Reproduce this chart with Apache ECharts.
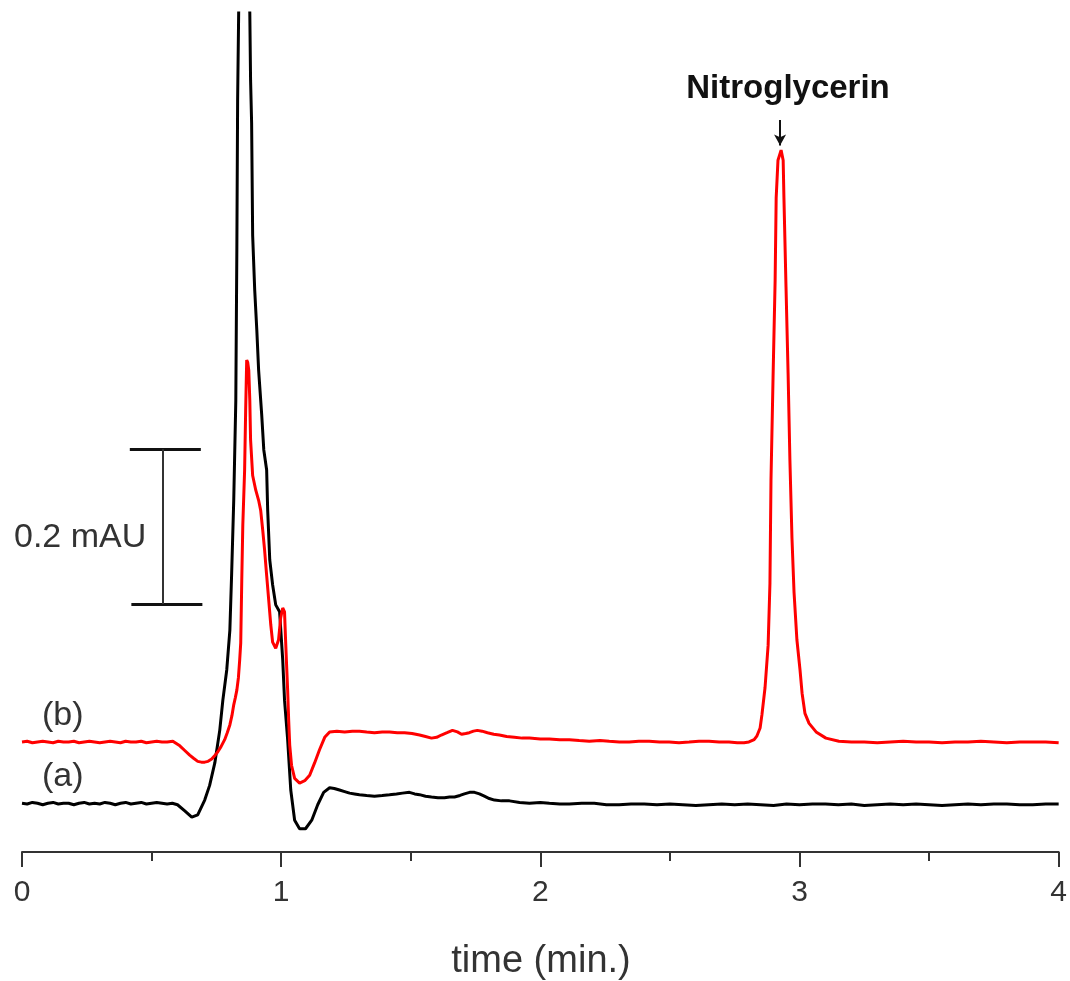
<!DOCTYPE html>
<html>
<head>
<meta charset="utf-8">
<script src="https://cdn.jsdelivr.net/npm/echarts@6/dist/echarts.min.js"></script>
<style>
html,body{margin:0;padding:0;background:#fff;}
#chart{width:1070px;height:981px;}
</style>
</head>
<body>
<div id="chart"></div>
<script>
// x tick labels
const xTicks = [0, 1, 2, 3, 4];

// Trace (a) - black, time (min) and absorbance (mAU, offset)
const timeA = [
0.00,0.02,0.04,0.06,0.08,0.10,0.12,0.14,0.16,0.18,0.20,0.22,0.24,0.26,0.28,0.30,0.32,0.34,0.36,0.38,0.40,0.42,0.44,0.46,0.48,0.50,0.52,0.54,0.56,0.58,0.60,
0.628,0.655,0.678,0.705,0.724,0.744,0.763,0.775,0.790,0.802,0.809,0.817,0.825,0.829,0.832,0.836,0.857,0.879,0.882,0.886,0.890,0.898,0.906,0.913,0.925,0.933,0.944,0.948,0.956,0.967,0.979,0.994,1.006,1.013,1.025,1.037,1.052,1.071,1.094,1.118,1.141,1.164,1.187,
1.205,1.225,1.245,1.264,1.283,1.302,1.330,1.360,1.390,1.418,1.445,1.468,1.495,1.515,1.534,1.557,1.580,1.605,1.630,1.650,1.669,1.690,1.707,1.727,1.746,1.765,1.784,1.803,1.823,1.850,1.881,1.920,1.958,2.000,2.035,2.075,2.112,2.160,2.208,2.255,2.304,2.350,2.401,
2.45,2.50,2.55,2.60,2.65,2.70,2.75,2.80,2.85,2.90,2.95,3.00,3.05,3.10,3.15,3.20,3.25,3.30,3.35,3.40,3.45,3.50,3.55,3.60,3.65,3.70,3.75,3.80,3.85,3.90,3.95,4.00
];
const signalA = [
0.063,0.062,0.064,0.063,0.061,0.063,0.064,0.062,0.063,0.063,0.061,0.063,0.064,0.062,0.063,0.062,0.064,0.063,0.061,0.063,0.064,0.062,0.063,0.064,0.062,0.063,0.064,0.063,0.062,0.063,0.061,
0.053,0.045,0.048,0.067,0.086,0.115,0.157,0.196,0.235,0.286,0.360,0.454,0.583,0.777,0.970,1.083,1.35,1.083,0.996,0.941,0.796,0.725,0.674,0.622,0.564,0.519,0.493,0.441,0.377,0.345,0.319,0.310,0.248,0.196,0.145,0.080,0.041,0.030,0.030,0.041,0.061,0.077,0.083,
0.082,0.080,0.078,0.076,0.075,0.074,0.073,0.072,0.073,0.074,0.075,0.076,0.077,0.075,0.074,0.072,0.071,0.070,0.070,0.071,0.071,0.073,0.075,0.077,0.077,0.075,0.072,0.069,0.067,0.066,0.066,0.064,0.063,0.064,0.063,0.062,0.062,0.063,0.063,0.061,0.061,0.062,0.062,
0.061,0.062,0.061,0.060,0.061,0.062,0.061,0.062,0.061,0.060,0.062,0.061,0.062,0.062,0.061,0.062,0.060,0.061,0.062,0.061,0.062,0.061,0.060,0.061,0.062,0.061,0.062,0.062,0.061,0.061,0.062,0.062
];

// Trace (b) - red
const timeB = [
0.00,0.02,0.04,0.06,0.08,0.10,0.12,0.14,0.16,0.18,0.20,0.22,0.24,0.26,0.28,0.30,0.32,0.34,0.36,0.38,0.40,0.42,0.44,0.46,0.48,0.50,0.52,0.54,0.56,0.582,
0.609,0.628,0.647,0.662,0.678,0.692,0.705,0.718,0.732,0.745,0.755,0.768,0.782,0.792,0.802,0.810,0.817,0.823,0.829,0.835,0.840,0.844,0.848,0.852,0.859,0.863,0.867,0.871,0.875,0.879,0.882,0.890,0.902,0.913,0.921,0.929,0.936,0.944,0.952,0.960,0.967,0.979,0.990,0.998,1.006,1.013,1.017,1.021,1.025,1.029,1.033,1.040,1.052,1.071,1.091,1.110,1.129,1.148,1.168,1.187,
1.215,1.245,1.275,1.302,1.330,1.360,1.390,1.418,1.448,1.476,1.505,1.534,1.557,1.580,1.600,1.618,1.640,1.661,1.680,1.696,1.712,1.726,1.742,1.757,1.775,1.796,1.820,1.842,1.870,1.900,1.930,1.958,2.000,2.035,2.075,2.112,2.150,2.189,2.230,2.266,2.305,2.343,2.380,2.420,2.460,2.497,2.535,2.574,2.612,2.651,2.690,2.728,2.760,2.786,2.805,
2.825,2.836,2.848,2.855,2.867,2.879,2.886,2.890,2.898,2.906,2.910,2.917,2.929,2.937,2.940,2.948,2.956,2.963,2.971,2.979,2.990,3.002,3.010,3.021,3.037,3.064,3.102,3.152,
3.20,3.25,3.30,3.35,3.40,3.45,3.50,3.55,3.60,3.65,3.70,3.75,3.80,3.85,3.90,3.95,4.00
];
const signalB = [
0.142,0.143,0.141,0.142,0.143,0.142,0.141,0.143,0.142,0.142,0.143,0.141,0.142,0.143,0.142,0.141,0.142,0.143,0.142,0.141,0.143,0.142,0.142,0.143,0.141,0.142,0.143,0.142,0.142,0.143,
0.137,0.131,0.125,0.121,0.117,0.116,0.116,0.117,0.120,0.125,0.129,0.136,0.145,0.154,0.164,0.176,0.190,0.199,0.209,0.225,0.248,0.270,0.351,0.422,0.493,0.570,0.635,0.632,0.622,0.583,0.532,0.486,0.467,0.454,0.441,0.415,0.390,0.357,0.325,0.293,0.271,0.263,0.274,0.302,0.315,0.310,0.274,0.241,0.209,0.170,0.138,0.112,0.095,0.089,0.092,0.099,0.115,0.132,0.148,0.155,
0.156,0.155,0.156,0.156,0.155,0.154,0.155,0.155,0.154,0.154,0.153,0.151,0.149,0.147,0.148,0.151,0.154,0.157,0.155,0.152,0.153,0.154,0.156,0.157,0.156,0.154,0.152,0.151,0.149,0.148,0.147,0.147,0.146,0.146,0.145,0.145,0.144,0.143,0.144,0.143,0.142,0.142,0.143,0.143,0.142,0.142,0.141,0.142,0.143,0.143,0.142,0.142,0.141,0.141,0.142,
0.145,0.150,0.160,0.177,0.212,0.267,0.347,0.480,0.613,0.738,0.844,0.893,0.906,0.893,0.844,0.729,0.618,0.506,0.405,0.335,0.274,0.235,0.205,0.179,0.166,0.155,0.147,0.143,
0.142,0.142,0.141,0.142,0.143,0.142,0.142,0.141,0.142,0.142,0.143,0.142,0.141,0.142,0.142,0.142,0.141
];

// scale bar (0.2 mAU) and annotation arrow, in data units
const scaleBarX = [0.416, 0.690];
const scaleBarMidX = 0.543;
const scaleBarY = [0.320, 0.520];
const arrowX = 2.925;
const arrowY = [0.945, 0.912];

const pairs = (t, v) => t.map((x, i) => [x, v[i]]);

const chart = echarts.init(document.getElementById('chart'), null, {renderer: 'canvas'});
const FONT = 'Liberation Sans, Arial, sans-serif';
chart.setOption({
  animation: false,
  backgroundColor: '#ffffff',
  grid: {left: 22, right: 10, top: 13, bottom: 129, containLabel: false},
  xAxis: {
    type: 'value', min: 0, max: 4, interval: 1,
    axisLine: {show: true, onZero: false, lineStyle: {color: '#333', width: 2}},
    axisTick: {show: true, inside: false, length: 15, lineStyle: {color: '#333', width: 2}},
    minorTick: {show: true, splitNumber: 2, length: 9, lineStyle: {color: '#333', width: 2}},
    splitLine: {show: false},
    minorSplitLine: {show: false},
    axisLabel: {
      margin: 26, fontSize: 30, color: '#333', fontFamily: FONT,
      formatter: v => (xTicks.indexOf(v) >= 0 ? String(v) : '')
    }
  },
  yAxis: {
    type: 'value', min: 0, max: 1.083, show: false,
    splitLine: {show: false}
  },
  series: [
    {
      name: '(a)', type: 'line', data: pairs(timeA, signalA),
      showSymbol: false, symbol: 'none', clip: true,
      lineStyle: {color: '#000000', width: 3}, z: 2,
      markLine: {
        silent: true, symbol: ['none', 'none'], animation: false,
        label: {show: false},
        lineStyle: {color: '#111', width: 3, type: 'solid'},
        emphasis: {disabled: true},
        data: [
          [{coord: [scaleBarX[0], scaleBarY[1]]}, {coord: [scaleBarX[1], scaleBarY[1]]}],
          [{coord: [scaleBarX[0] + 0.006, scaleBarY[0]]}, {coord: [scaleBarX[1] + 0.006, scaleBarY[0]]}],
          [{coord: [scaleBarMidX, scaleBarY[1]], lineStyle: {width: 2, color: '#333'}}, {coord: [scaleBarMidX, scaleBarY[0]]}]
        ]
      }
    },
    {
      name: '(b)', type: 'line', data: pairs(timeB, signalB),
      showSymbol: false, symbol: 'none', clip: true,
      lineStyle: {color: '#ff0000', width: 3}, z: 3,
      markLine: {
        silent: true, symbol: ['none', 'arrow'], symbolSize: [9, 11], animation: false,
        label: {show: false},
        lineStyle: {color: '#111', width: 2, type: 'solid'},
        emphasis: {disabled: true},
        data: [
          [{coord: [arrowX, arrowY[0]]}, {coord: [arrowX, arrowY[1]]}]
        ]
      }
    }
  ],
  graphic: [
    {type: 'text', x: 788, y: 89, style: {text: 'Nitroglycerin', fontSize: 33, fontWeight: 'bold', fontFamily: FONT, fill: '#111', align: 'center', verticalAlign: 'middle'}},
    {type: 'text', x: 14, y: 538, style: {text: '0.2 mAU', fontSize: 34, fontFamily: FONT, fill: '#333', align: 'left', verticalAlign: 'middle'}},
    {type: 'text', x: 42, y: 716, style: {text: '(b)', fontSize: 34, fontFamily: FONT, fill: '#333', align: 'left', verticalAlign: 'middle'}},
    {type: 'text', x: 42, y: 777, style: {text: '(a)', fontSize: 34, fontFamily: FONT, fill: '#333', align: 'left', verticalAlign: 'middle'}},
    {type: 'text', x: 541, y: 962, style: {text: 'time (min.)', fontSize: 38, fontFamily: FONT, fill: '#333', align: 'center', verticalAlign: 'middle'}}
  ]
});
</script>
</body>
</html>
